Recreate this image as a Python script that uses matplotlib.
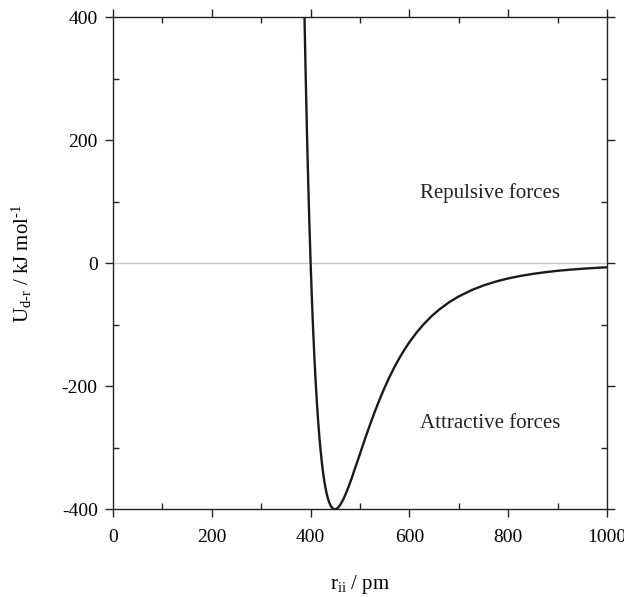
import matplotlib
matplotlib.use("Agg")
import matplotlib.pyplot as plt
from matplotlib.ticker import MultipleLocator

plt.rcParams['font.family'] = ['Liberation Serif', 'DejaVu Serif']
plt.rcParams['mathtext.fontset'] = 'custom'
plt.rcParams['mathtext.rm'] = 'Liberation Serif'
plt.rcParams['mathtext.it'] = 'Liberation Serif:italic'
plt.rcParams['axes.unicode_minus'] = False

# values
r_pm = [387.6, 390, 392.5, 395, 397.5, 400, 402.5, 405, 407.5, 410, 412.5,
        415, 417.5, 420, 422.5, 425, 427.5, 430, 432.5, 435, 437.5, 440,
        442.5, 445, 447.5, 450, 452.5, 455, 457.5, 460, 465, 470, 475, 480,
        485, 490, 495, 500, 510, 520, 530, 540, 550, 560, 570, 580, 590,
        600, 615, 630, 645, 660, 680, 700, 725, 750, 775, 800, 825, 850,
        875, 900, 925, 950, 975, 1000]
u_kj = [400, 305.5, 215.6, 135.3, 63.7, 0, -56.6, -106.7, -151.0, -190.0,
        -224.3, -254.3, -280.4, -303.0, -322.5, -339.1, -353.2, -365.0,
        -374.7, -382.5, -388.7, -393.3, -396.7, -398.8, -399.8, -399.9,
        -399.2, -397.6, -395.5, -392.7, -385.6, -377.0, -367.1, -356.4,
        -345.1, -332.9, -321.5, -309.5, -285.7, -262.8, -241.1, -220.6,
        -201.7, -184.3, -168.2, -153.6, -140.3, -128.1, -112.0, -98.0,
        -85.8, -75.4, -63.5, -53.8, -43.9, -36.0, -29.7, -24.6, -20.5,
        -17.2, -14.5, -12.2, -10.4, -8.9, -7.6, -6.5]

x_ticks = [0, 200, 400, 600, 800, 1000]
y_ticks = [-400, -200, 0, 200, 400]

fig = plt.figure(figsize=(6.24, 5.97), dpi=100)
ax = fig.add_axes([0.181, 0.147, 0.792, 0.824])

ax.axhline(0, color='#c8c8c8', lw=1.0, zorder=1)
ax.plot(r_pm, u_kj, color='#1a1a1a', lw=1.7, zorder=2,
        solid_joinstyle='round', solid_capstyle='round')

ax.set_xlim(0, 1000)
ax.set_ylim(-400, 400)
ax.set_xticks(x_ticks)
ax.set_yticks(y_ticks)
ax.xaxis.set_minor_locator(MultipleLocator(100))
ax.yaxis.set_minor_locator(MultipleLocator(100))

ax.tick_params(which='major', direction='out', length=6, width=1.0,
               top=True, right=True, labelsize=14, color='#222222')
ax.tick_params(which='minor', direction='in', length=4.5, width=1.0,
               top=True, right=True, color='#222222')
ax.tick_params(axis='x', which='major', pad=8)
ax.tick_params(axis='y', which='major', pad=5)
for s in ax.spines.values():
    s.set_linewidth(1.0)
    s.set_color('#222222')

ax.set_xlabel(r'r$_{\mathrm{ii}}$ / pm', fontsize=15, labelpad=20)
ax.set_ylabel(r'U$_{\mathrm{d\text{-}r}}$ / kJ mol$^{\mathrm{\text{-}1}}$',
              fontsize=15, labelpad=20)

ax.text(763, 114, 'Repulsive forces', fontsize=15, ha='center', va='center',
        color='#222222')
ax.text(763, -260, 'Attractive forces', fontsize=15, ha='center', va='center',
        color='#222222')

fig.savefig('out.png', dpi=100)
